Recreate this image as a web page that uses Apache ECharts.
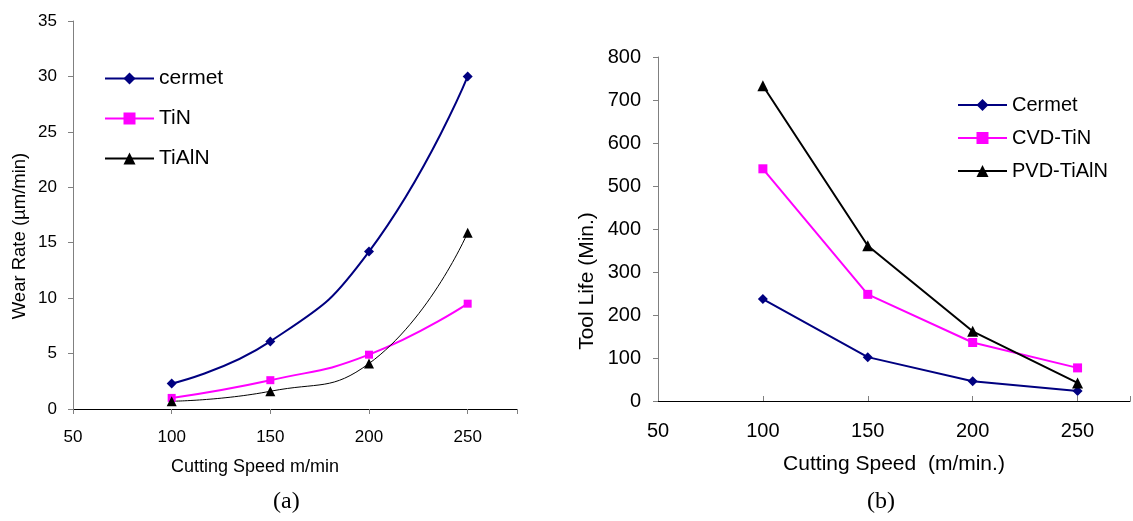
<!DOCTYPE html>
<html>
<head>
<meta charset="utf-8">
<title>Wear rate and tool life</title>
<script src="https://cdn.jsdelivr.net/npm/echarts@6/dist/echarts.min.js"></script>
<style>
  html, body { margin: 0; padding: 0; background: #fff; }
  #chart { width: 1133px; height: 521px; }
</style>
</head>
<body>
<div id="chart"></div>
<script>
  // cutting speeds (m/min)
  var speeds = [100, 150, 200, 250];

  // (a) wear rate, um/min
  var wearCermet = [2.3, 6.1, 14.2, 30.0];
  var wearTiN = [1.0, 2.6, 4.9, 9.5];
  var wearTiAlN = [0.7, 1.6, 4.1, 15.9];

  // (b) tool life, min
  var lifeCermet = [237, 102, 46, 23];
  var lifeCvdTiN = [540, 248, 136, 77];
  var lifePvdTiAlN = [733, 361, 162, 42];

  var font = '"Liberation Sans", Arial, sans-serif';
  var serif = '"Liberation Serif", "Times New Roman", serif';

  function pairs(vals) {
    return speeds.map(function (s, i) { return [s, vals[i]]; });
  }

  function xAxis(idx, fontSize, margin, inside, name, nameSize, nameGap, pad) {
    return {
      type: 'value', gridIndex: idx, min: 50, max: 275, interval: 50,
      axisLine: { show: true, onZero: false, lineStyle: { color: '#000', width: 1 } },
      axisTick: { show: true, inside: inside, length: 5, lineStyle: { color: '#808080' } },
      axisLabel: {
        color: '#000', fontSize: fontSize, fontFamily: font, margin: margin,
        formatter: function (v) { return v <= 250 ? v : ''; }
      },
      splitLine: { show: false },
      name: name, nameLocation: 'middle', nameGap: nameGap,
      nameTextStyle: { color: '#000', fontSize: nameSize, fontFamily: font, padding: pad }
    };
  }

  function yAxis(idx, max, interval, fontSize, margin, name, nameSize, nameGap, pad) {
    return {
      type: 'value', gridIndex: idx, min: 0, max: max, interval: interval,
      axisLine: { show: true, lineStyle: { color: '#808080', width: 1 } },
      axisTick: { show: true, length: 5, lineStyle: { color: '#808080' } },
      axisLabel: { color: '#000', fontSize: fontSize, fontFamily: font, margin: margin },
      splitLine: { show: false },
      name: name, nameLocation: 'middle', nameGap: nameGap, nameRotate: 90,
      nameTextStyle: { color: '#000', fontSize: nameSize, fontFamily: font, padding: pad }
    };
  }

  function line(name, idx, vals, color, width, symbol, size, smooth) {
    return {
      name: name, type: 'line', xAxisIndex: idx, yAxisIndex: idx,
      data: pairs(vals), smooth: smooth, symbol: symbol, symbolSize: size,
      lineStyle: { color: color, width: width },
      itemStyle: { color: color },
      emphasis: { disabled: true }
    };
  }

  var myChart = echarts.init(document.getElementById('chart'));

  myChart.setOption({
    backgroundColor: '#fff',
    animation: false,
    grid: [
      { left: 73, top: 21, width: 444, height: 388 },
      { left: 658, top: 57, width: 479, height: 344 }
    ],
    legend: [
      {
        data: ['cermet', 'TiN', 'TiAlN'], orient: 'vertical',
        left: 99, top: 63, itemWidth: 49, itemHeight: 15, itemGap: 19,
        textStyle: { color: '#000', fontSize: 21, fontFamily: font }
      },
      {
        data: ['Cermet', 'CVD-TiN', 'PVD-TiAlN'], orient: 'vertical',
        left: 952, top: 90, itemWidth: 49, itemHeight: 15, itemGap: 13,
        textStyle: { color: '#000', fontSize: 20, fontFamily: font }
      }
    ],
    xAxis: [
      xAxis(0, 17, 20, false, 'Cutting Speed m/min', 18, 49, [0, 80, 0, 0]),
      xAxis(1, 20, 20, true, 'Cutting Speed  (m/min.)', 21, 53, [0, 0, 0, 0])
    ],
    yAxis: [
      yAxis(0, 35, 5, 17, 16, 'Wear Rate (\u00b5m/min)', 18.5, 44, [0, 42, 0, 0]),
      yAxis(1, 800, 100, 20, 17, 'Tool Life (Min.)', 21, 60, [0, 104, 0, 0])
    ],
    series: [
      line('cermet', 0, wearCermet, '#000080', 2, 'diamond', 10, true),
      line('TiN', 0, wearTiN, '#ff00ff', 2, 'rect', 8, true),
      line('TiAlN', 0, wearTiAlN, '#000', 1, 'triangle', 10, true),
      line('Cermet', 1, lifeCermet, '#000080', 2, 'diamond', 10, false),
      line('CVD-TiN', 1, lifeCvdTiN, '#ff00ff', 2, 'rect', 9, false),
      line('PVD-TiAlN', 1, lifePvdTiAlN, '#000', 2, 'triangle', 11, false)
    ],
    // panel captions
    graphic: [
      { type: 'text', left: 273, top: 490, style: { text: '(a)', fill: '#000', fontSize: 24, fontFamily: serif } },
      { type: 'text', left: 867, top: 490, style: { text: '(b)', fill: '#000', fontSize: 24, fontFamily: serif } }
    ]
  });
</script>
</body>
</html>
